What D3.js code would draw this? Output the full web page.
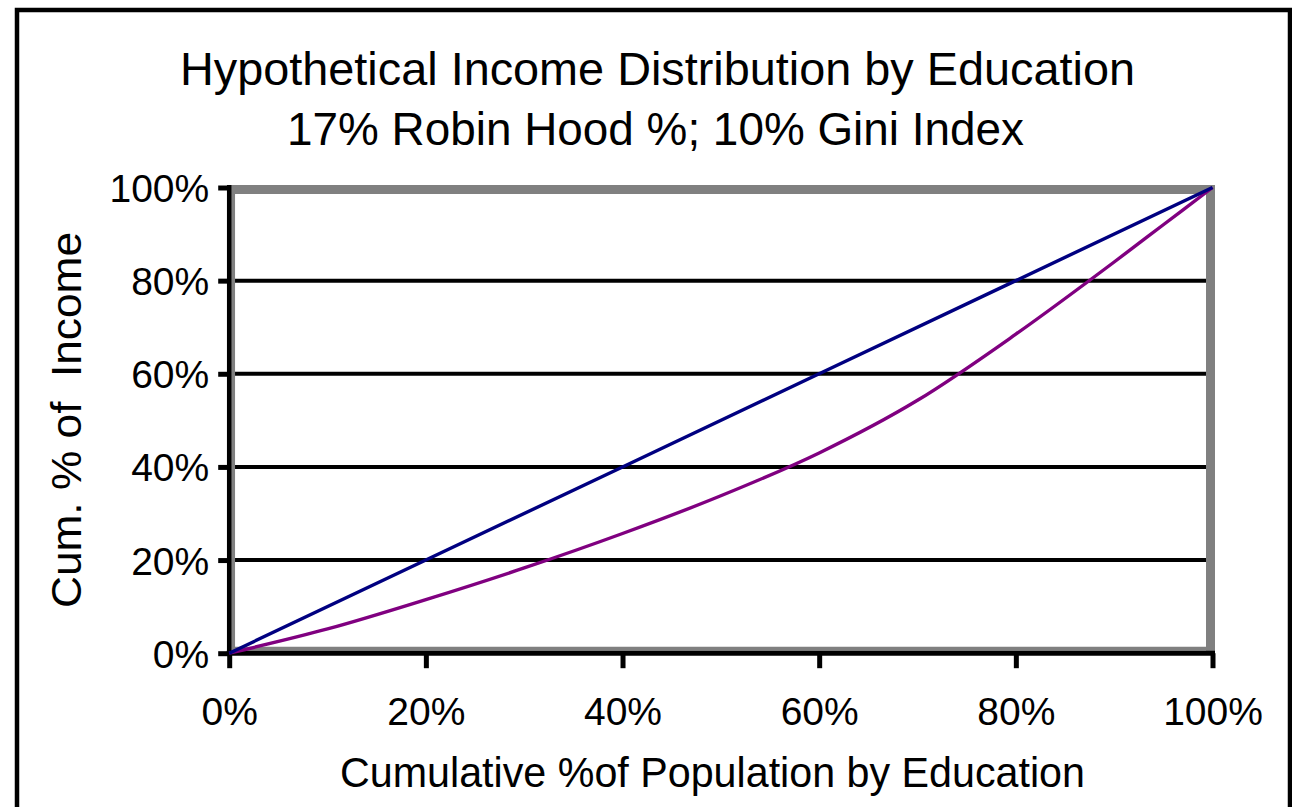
<!DOCTYPE html>
<html>
<head>
<meta charset="utf-8">
<script src="https://cdn.jsdelivr.net/npm/d3@7"></script>
<style>
  html, body { margin: 0; padding: 0; background: #ffffff; }
  svg { display: block; }
  text { font-family: "Liberation Sans", Arial, sans-serif; fill: #000; }
</style>
</head>
<body>
<svg id="chart" width="1292" height="807"></svg>
<script>
// ---- Data ----
const titleLines = ["Hypothetical Income Distribution by Education", "17% Robin Hood %; 10% Gini Index"];
const xAxisTitle = "Cumulative %of Population by Education";
const yAxisTitle = "Cum. % of  Income";
const xTicks = [0, 20, 40, 60, 80, 100];
const yTicks = [0, 20, 40, 60, 80, 100];
const tickLabels = ["0%", "20%", "40%", "60%", "80%", "100%"];
// Line of equality (blue)
const equalityPop = [0, 20, 40, 60, 80, 100];
const equalityInc = [0, 20, 40, 60, 80, 100];
// Lorenz curve by education (purple)
const lorenzPop = [0, 10, 20, 30, 40, 50, 60, 70, 80, 90, 95, 100];
const lorenzInc = [0, 5.2, 11.5, 18.3, 25.7, 33.8, 43.0, 54.3, 68.5, 84.0, 92.0, 100];

// ---- Layout ----
const svg = d3.select("#chart");
const x = d3.scaleLinear().domain([0, 100]).range([229.2, 1212.5]);
const y = d3.scaleLinear().domain([0, 100]).range([653.2, 187.5]);

// outer frame
svg.append("rect")
  .attr("x", 17).attr("y", 10)
  .attr("width", 1273).attr("height", 830)
  .attr("fill", "#fff").attr("stroke", "#000").attr("stroke-width", 4.5);

// titles
const titleY = [85, 145];
const titleX = [180, 287];
const titleW = [955, 737];
titleLines.forEach((t, i) => {
  svg.append("text")
    .attr("x", titleX[i])
    .attr("y", titleY[i])
    .attr("font-size", 46)
    .attr("textLength", titleW[i])
    .attr("lengthAdjust", "spacingAndGlyphs")
    .text(t);
});

// gridlines (20..80)
svg.append("g").selectAll("line")
  .data(yTicks.filter(d => d > 0 && d < 100))
  .join("line")
  .attr("x1", x(0)).attr("x2", x(100) - 4)
  .attr("y1", d => y(d)).attr("y2", d => y(d))
  .attr("stroke", "#000").attr("stroke-width", 4);

// gray plot-area border
const gray = "#808080";
const pb = svg.append("g").attr("stroke", gray);
pb.append("line").attr("x1", x(0) + 2).attr("x2", x(100) + 2.5)
  .attr("y1", y(100) + 2).attr("y2", y(100) + 2).attr("stroke-width", 9);
pb.append("line").attr("x1", x(100) - 2).attr("x2", x(100) - 2)
  .attr("y1", y(100) - 2.5).attr("y2", y(0) - 2).attr("stroke-width", 9);
pb.append("line").attr("x1", x(0) + 3.7).attr("x2", x(0) + 3.7)
  .attr("y1", y(100) - 2.5).attr("y2", y(0) - 2).attr("stroke-width", 4.3);
pb.append("line").attr("x1", x(0)).attr("x2", x(100) + 2.5)
  .attr("y1", y(0) - 4.5).attr("y2", y(0) - 4.5).attr("stroke-width", 4);

// axes (black)
const yAxis = d3.axisLeft(y).tickValues(yTicks).tickSize(11).tickFormat((d, i) => tickLabels[i]);
const gy = svg.append("g").attr("transform", `translate(${x(0)},0)`).call(yAxis);
gy.select(".domain").attr("stroke", "#000").attr("stroke-width", 4.5)
  .attr("d", `M0,${y(100) - 2.5}V${y(0) + 2.5}`);
gy.selectAll(".tick line").attr("stroke", "#000").attr("stroke-width", 5);
gy.selectAll(".tick text")
  .attr("x", -20).attr("dy", "0.36em")
  .attr("font-size", 39).attr("font-family", "Liberation Sans, Arial, sans-serif")
  .attr("fill", "#000");

const xAxis = d3.axisBottom(x).tickValues(xTicks).tickSize(15).tickFormat((d, i) => tickLabels[i]);
const gx = svg.append("g").attr("transform", `translate(0,${y(0)})`).call(xAxis);
gx.select(".domain").attr("stroke", "#000").attr("stroke-width", 5)
  .attr("d", `M${x(0) - 2.5},0H${x(100) + 2.5}`);
gx.selectAll(".tick line").attr("stroke", "#000").attr("stroke-width", 5);
gx.selectAll(".tick text")
  .attr("y", 0).attr("dy", 72)
  .attr("font-size", 39).attr("font-family", "Liberation Sans, Arial, sans-serif")
  .attr("fill", "#000");

// axis titles
svg.append("text")
  .attr("x", 340).attr("y", 787)
  .attr("font-size", 42)
  .attr("textLength", 745).attr("lengthAdjust", "spacingAndGlyphs")
  .text(xAxisTitle);

svg.append("text")
  .attr("transform", `translate(81,608) rotate(-90)`)
  .attr("x", 0).attr("y", 0)
  .attr("font-size", 42)
  .attr("textLength", 376).attr("lengthAdjust", "spacingAndGlyphs")
  .attr("xml:space", "preserve")
  .style("white-space", "pre")
  .text(yAxisTitle);

// lines
const lorenz = lorenzPop.map((p, i) => [p, lorenzInc[i]]);
const equality = equalityPop.map((p, i) => [p, equalityInc[i]]);

svg.append("path").datum(lorenz)
  .attr("d", d3.line().x(d => x(d[0])).y(d => y(d[1])).curve(d3.curveMonotoneX))
  .attr("fill", "none").attr("stroke", "#800080").attr("stroke-width", 3.4);
svg.append("path").datum(equality)
  .attr("d", d3.line().x(d => x(d[0])).y(d => y(d[1])))
  .attr("fill", "none").attr("stroke", "#000080").attr("stroke-width", 3.4);
</script>
</body>
</html>
